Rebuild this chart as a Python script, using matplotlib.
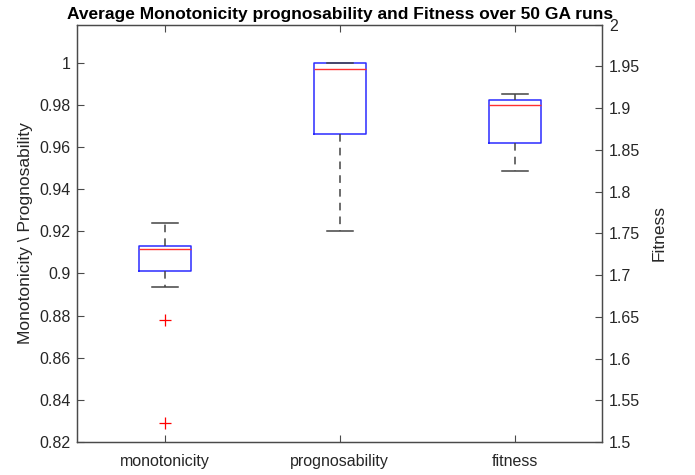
import matplotlib.pyplot as plt
from matplotlib.ticker import FuncFormatter

labels = ["monotonicity", "prognosability", "fitness"]
q1 = [0.9013, 0.9662, 1.8583]
med = [0.9115, 0.9969, 1.9034]
q3 = [0.9132, 1.0000, 1.9101]
whislo = [0.8937, 0.9203, 1.8247]
whishi = [0.9238, 1.0000, 1.9173]
fliers = [[0.8779, 0.8289], [], []]

plt.rcParams["font.family"] = ["Liberation Sans", "DejaVu Sans"]

stats = []
for i in range(len(labels)):
    stats.append(dict(label=labels[i], q1=q1[i], med=med[i], q3=q3[i],
                      whislo=whislo[i], whishi=whishi[i], fliers=fliers[i]))

style = dict(
    boxprops=dict(color="#2b2bff", linewidth=1.1),
    medianprops=dict(color="#ff3030", linewidth=1.0),
    whiskerprops=dict(color="#444444", linestyle=(0, (5, 4)), linewidth=1.1),
    capprops=dict(color="#444444", linewidth=1.1),
    flierprops=dict(marker="+", markeredgecolor="red", markersize=8,
                    markeredgewidth=0.9, linestyle="none"),
    widths=0.3, capwidths=0.15, manage_ticks=False,
)

fig = plt.figure(figsize=(6.95, 4.75), dpi=100)
ax = fig.add_axes([0.1112, 0.0695, 0.7554, 0.8785])
ax2 = ax.twinx()

ax.bxp(stats[:2], positions=[1, 2], **style)
ax2.bxp(stats[2:], positions=[3], **style)

ax.set_xlim(0.5, 3.5)
ax.set_xticks([1, 2, 3], labels)
ax.set_ylim(0.82, 1.018)
ax.set_yticks([0.82 + 0.02 * k for k in range(10)])
ax2.set_ylim(1.5, 2.0)
ax2.set_yticks([1.5 + 0.05 * k for k in range(11)])

ax.yaxis.set_major_formatter(FuncFormatter(lambda v, p: f"{round(v, 2):g}"))
ax2.yaxis.set_major_formatter(FuncFormatter(lambda v, p: f"{round(v, 2):g}"))

for a in (ax, ax2):
    for s in a.spines.values():
        s.set_color("#4a4a4a")
        s.set_linewidth(0.9)
    a.tick_params(direction="in", length=5, width=0.8, color="#4a4a4a",
                  labelsize=11.5, labelcolor="#262626", pad=5)
ax.tick_params(axis="x", top=True, pad=9)
ax.tick_params(axis="y", right=False)

ax.set_ylabel("Monotonicity \\ Prognosability", fontsize=12.5, color="#262626")
ax2.set_ylabel("Fitness", fontsize=12.5, color="#262626", labelpad=8)
ax.set_title("Average Monotonicity prognosability and Fitness over 50 GA runs",
             fontsize=12.5, fontweight="bold", pad=4)

fig.savefig("out.png", dpi=100)
